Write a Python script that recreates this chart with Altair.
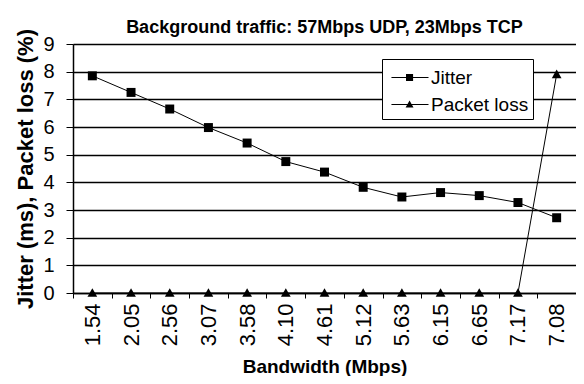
import altair as alt
import pandas as pd

bandwidth = ["1.54", "2.05", "2.56", "3.07", "3.58", "4.10", "4.61",
             "5.12", "5.63", "6.15", "6.65", "7.17", "7.08"]
jitter = [7.85, 7.25, 6.65, 5.98, 5.42, 4.75, 4.37, 3.82, 3.47, 3.63, 3.52, 3.27, 2.72]
packet_loss = [0, 0, 0, 0, 0, 0, 0, 0, 0, 0, 0, 0, 7.9]
series_names = ["Jitter", "Packet loss"]

rows = []
for i, b in enumerate(bandwidth):
    rows.append({"bw": b, "series": series_names[0], "value": jitter[i]})
    rows.append({"bw": b, "series": series_names[1], "value": packet_loss[i]})
df = pd.DataFrame(rows)

FONT = "Liberation Sans"

# plot markers
sq_path = "M-0.24,-0.24H0.24V0.24H-0.24Z"
tri_path = "M0,-0.26L0.26,0.2H-0.26Z"
# legend symbols: marker with a short line through it
sq_leg = "M-0.64,-0.04H1.98V0.04H-0.64Z M0.39,-0.25H0.89V0.25H0.39Z"
tri_leg = "M-0.64,-0.04H1.98V0.04H-0.64Z M0.64,-0.28L0.92,0.22H0.36Z"

x_enc = alt.X("bw:N", sort=bandwidth,
              scale=alt.Scale(type="band", paddingInner=0, paddingOuter=0),
              axis=alt.Axis(title="Bandwidth (Mbps)", labelAngle=270,
                            tickBand="extent", tickSize=5, tickColor="black",
                            domainColor="black", domainWidth=1.5,
                            labelFontSize=22, labelFont=FONT, labelColor="black",
                            labelPadding=5,
                            titleFont=FONT, titleFontSize=19, titleFontWeight="bold",
                            titleColor="black", titlePadding=12))
y_enc = alt.Y("value:Q", scale=alt.Scale(domain=[0, 9], nice=False),
              axis=alt.Axis(title="Jitter (ms),  Packet loss (%)",
                            values=list(range(10)), tickCount=10,
                            grid=True, gridColor="black", gridWidth=1.3, gridOpacity=1,
                            tickSize=7, tickColor="black",
                            domainColor="black", domainWidth=1.5,
                            labelFontSize=20, labelFont=FONT, labelColor="black",
                            labelPadding=12,
                            titleFont=FONT, titleFontSize=22, titleFontWeight="bold",
                            titleColor="black", titlePadding=5))

lines = alt.Chart(df).mark_line(color="black", strokeWidth=1).encode(
    x=x_enc, y=y_enc, detail="series:N")

points = alt.Chart(df).mark_point(filled=True, size=1400, opacity=1, color="black").encode(
    x=x_enc, y=y_enc,
    shape=alt.Shape("series:N",
                    scale=alt.Scale(domain=series_names, range=[sq_path, tri_path]),
                    legend=None))

legend_layer = alt.Chart(df).transform_filter(
    alt.datum.value < -1000
).mark_point(filled=True, color="black", opacity=1).encode(
    x=x_enc, y=y_enc,
    shape=alt.Shape("series:N",
                    scale=alt.Scale(domain=series_names, range=[sq_leg, tri_leg]),
                    legend=alt.Legend(title=None, orient="none", legendX=309, legendY=15,
                                      strokeColor="black", padding=4, fillColor="white",
                                      symbolSize=800, symbolFillColor="black",
                                      symbolOpacity=1, symbolStrokeWidth=0,
                                      labelFont=FONT, labelFontSize=19, labelColor="black",
                                      rowPadding=2, labelOffset=16)))

chart = alt.layer(lines, points, legend_layer).resolve_scale(
    shape="independent"
).properties(
    width=503, height=249,
    title=alt.TitleParams("Background traffic: 57Mbps UDP, 23Mbps TCP",
                          font=FONT, fontSize=18, fontWeight="bold", color="black",
                          anchor="middle", offset=4, dy=16),
    autosize=alt.AutoSizeParams(type="none"),
    padding={"left": 65, "top": 36, "right": 0, "bottom": 83},
).configure_view(stroke=None).configure(background="white")

chart.save("out.html", embed_options={"renderer": "svg", "actions": False})
